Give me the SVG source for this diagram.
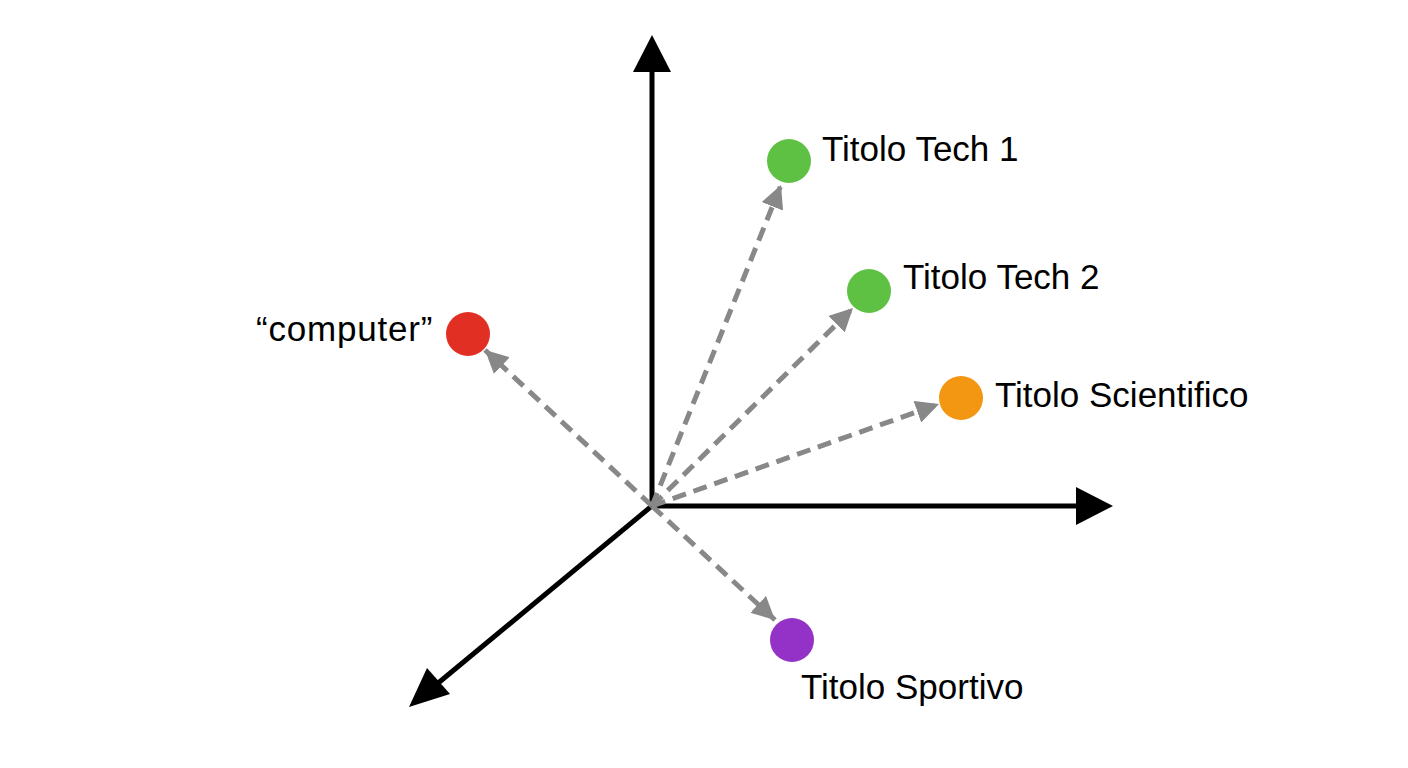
<svg xmlns="http://www.w3.org/2000/svg" width="1408" height="768" viewBox="0 0 1408 768">
<defs>
<style>
.axis{stroke:#000;stroke-width:5;fill:none}
.vec{stroke:#888;stroke-width:5;fill:none;stroke-dasharray:14 8}
.lbl{font-family:"Liberation Sans",Arial,sans-serif;font-size:35px;fill:#000}
</style>
<marker id="gh" viewBox="0 0 10 10" refX="10" refY="5" markerWidth="4.6" markerHeight="4.6" orient="auto">
<path d="M0,0 L10,5 L0,10 Z" fill="#888"/>
</marker>
</defs>
<rect width="1408" height="768" fill="#fff"/>
<g id="axes">
<line class="axis" x1="652" y1="508" x2="652" y2="70"/>
<polygon points="652,35 671,72 633,72" fill="#000"/>
<line class="axis" x1="650" y1="506" x2="1078" y2="506"/>
<polygon points="1113,506 1076,487 1076,525" fill="#000"/>
<line class="axis" x1="653" y1="505" x2="437" y2="684"/>
<polygon points="409,707 427,668 450,694" fill="#000"/>
</g>
<g id="connectors">
<line class="vec" x1="652" y1="506" x2="781" y2="185" marker-end="url(#gh)"/>
<line class="vec" x1="652" y1="506" x2="853" y2="308" marker-end="url(#gh)"/>
<line class="vec" x1="652" y1="506" x2="485" y2="350" marker-end="url(#gh)"/>
<line class="vec" x1="652" y1="506" x2="939" y2="404" marker-end="url(#gh)"/>
<line class="vec" x1="652" y1="506" x2="775" y2="620" marker-end="url(#gh)"/>
</g>
<g id="tech1">
<circle cx="789" cy="161" r="22" fill="#5fc143"/>
<text class="lbl" x="822" y="161">Titolo Tech 1</text>
</g>
<g id="tech2">
<circle cx="869" cy="291" r="22" fill="#5fc143"/>
<text class="lbl" x="903" y="289">Titolo Tech 2</text>
</g>
<g id="computer">
<circle cx="468" cy="334" r="22" fill="#e22f24"/>
<text class="lbl" x="256" y="341" letter-spacing="0.8">“computer”</text>
</g>
<g id="scientifico">
<circle cx="961" cy="398" r="22" fill="#f39611"/>
<text class="lbl" x="995" y="407">Titolo Scientifico</text>
</g>
<g id="sportivo">
<circle cx="792" cy="640" r="22" fill="#9432c8"/>
<text class="lbl" x="801" y="699">Titolo Sportivo</text>
</g>
</svg>
